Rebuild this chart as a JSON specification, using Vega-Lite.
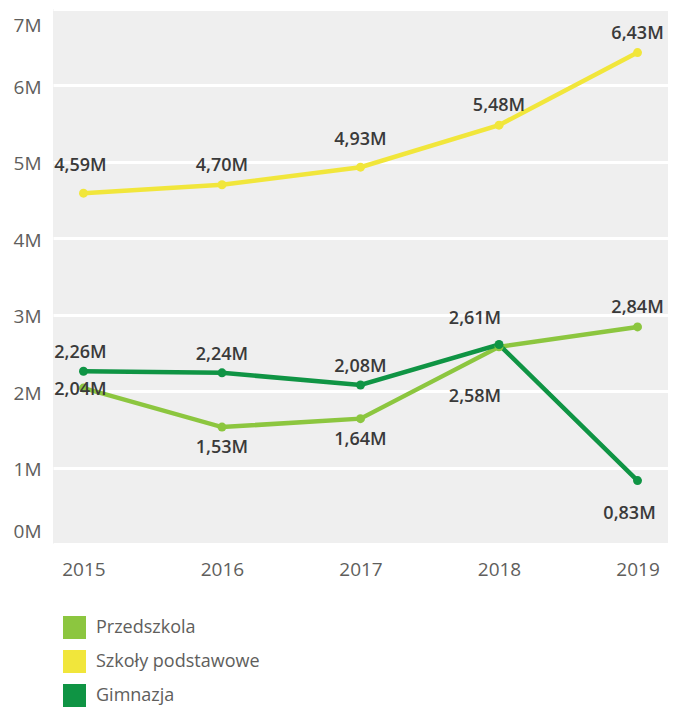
{
  "$schema": "https://vega.github.io/schema/vega-lite/v6.json",
  "width": 615,
  "height": 535,
  "autosize": "none",
  "padding": {"left": 53, "top": 9, "right": 15, "bottom": 167},
  "background": "white",
  "config": {
    "view": {"fill": "#efefef", "stroke": null},
    "font": "Open Sans"
  },
  "data": {
    "values": [
      {"year": 2015, "series": "Przedszkola", "value": 2.04},
      {"year": 2016, "series": "Przedszkola", "value": 1.53},
      {"year": 2017, "series": "Przedszkola", "value": 1.64},
      {"year": 2018, "series": "Przedszkola", "value": 2.58},
      {"year": 2019, "series": "Przedszkola", "value": 2.84},
      {"year": 2015, "series": "Szkoły podstawowe", "value": 4.59},
      {"year": 2016, "series": "Szkoły podstawowe", "value": 4.70},
      {"year": 2017, "series": "Szkoły podstawowe", "value": 4.93},
      {"year": 2018, "series": "Szkoły podstawowe", "value": 5.48},
      {"year": 2019, "series": "Szkoły podstawowe", "value": 6.43},
      {"year": 2015, "series": "Gimnazja", "value": 2.26},
      {"year": 2016, "series": "Gimnazja", "value": 2.24},
      {"year": 2017, "series": "Gimnazja", "value": 2.08},
      {"year": 2018, "series": "Gimnazja", "value": 2.61},
      {"year": 2019, "series": "Gimnazja", "value": 0.83}
    ]
  },
  "transform": [
    {"calculate": "replace(format(datum.value, '.2f'), '.', ',') + 'M'", "as": "label"}
  ],
  "encoding": {
    "x": {
      "field": "year", "type": "ordinal", "title": null,
      "scale": {"type": "point", "padding": 0.22},
      "axis": {"labelAngle": 0, "ticks": false, "domain": false, "grid": false,
               "labelFontSize": 19, "labelColor": "#605e5c", "labelPadding": 16}
    },
    "y": {
      "field": "value", "type": "quantitative", "title": null,
      "scale": {"domain": [0, 7], "nice": false, "zero": true},
      "axis": {"values": [0, 1, 2, 3, 4, 5, 6, 7], "labelExpr": "datum.value + 'M'",
               "ticks": false, "domain": false, "grid": true, "gridColor": "white", "gridWidth": 3,
               "labelFontSize": 19, "labelColor": "#605e5c", "labelPadding": 12,
               "labelFlush": false, "labelBaseline": "middle",
               "labelOffset": {"condition": [{"test": "datum.value == 7", "value": 16}, {"test": "datum.value == 0", "value": -13}], "value": 2}}
    },
    "color": {
      "field": "series", "type": "nominal", "title": null,
      "scale": {"domain": ["Przedszkola", "Szkoły podstawowe", "Gimnazja"],
                "range": ["#8cc63f", "#f1e63b", "#0f9444"]},
      "legend": {
        "orient": "none", "legendX": 10, "legendY": 607, "direction": "vertical",
        "symbolType": "square", "symbolSize": 529, "symbolStrokeWidth": 0,
        "labelFontSize": 18, "labelColor": "#605e5c", "labelOffset": 10, "labelLimit": 400,
        "rowPadding": 11, "padding": 0,
        "encode": {"symbols": {"update": {"fill": {"scale": "color", "field": "value"}, "stroke": {"value": "transparent"}, "opacity": {"value": 1}}}}
      }
    }
  },
  "layer": [
    {"mark": {"type": "line", "strokeWidth": 4.5}},
    {"mark": {"type": "point", "filled": true, "size": 80, "opacity": 1}},
    {
      "mark": {
        "type": "text", "fontSize": 18, "fontWeight": 600, "color": "#3a3a3a", "baseline": "middle",
        "dy": {"expr": "datum.series == 'Szkoły podstawowe' ? ((datum.year == 2015 || datum.year == 2017) ? -27 : -19) : datum.series == 'Gimnazja' ? (datum.year == 2019 ? 33 : datum.year == 2018 ? -26 : -18) : (datum.year == 2015 ? 2 : datum.year == 2018 ? 50 : datum.year == 2019 ? -19 : 21)"},
        "dx": {"expr": "(datum.year == 2018 && datum.series != 'Szkoły podstawowe') ? -24 : datum.year == 2015 ? -3 : (datum.year == 2019 && datum.series == 'Gimnazja') ? -8 : 0"}
      },
      "encoding": {"text": {"field": "label"}, "color": {"value": "#3a3a3a"}}
    }
  ]
}
